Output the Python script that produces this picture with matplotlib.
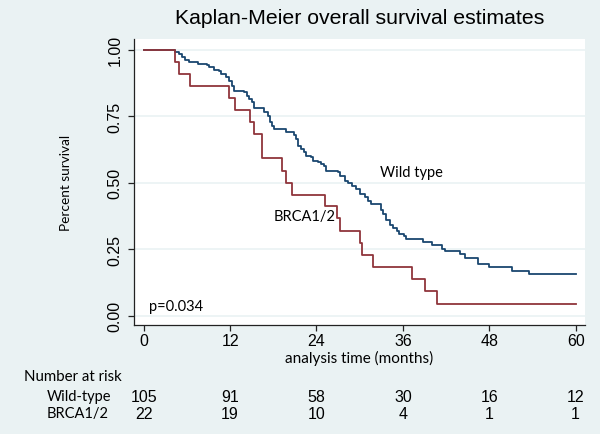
import numpy as np
import matplotlib.pyplot as plt
from matplotlib import transforms

# KM curves: time of each drop (months) and survival after it
wt_time = [0, 4.3, 4.9, 5.35, 5.8, 6.3, 7.6, 8.8, 9.1, 9.8, 10.5, 10.7, 11.4, 11.9,
           12.2, 12.5, 13.9, 14.4, 14.6, 15.0, 15.3, 16.7, 17.2, 17.5, 17.8, 18.1,
           19.7, 20.9, 21.2, 21.5, 21.8, 22.2, 22.5, 23.2, 23.5, 24.2, 24.6, 25.1,
           25.3, 27.0, 27.2, 27.9, 28.4, 29.0, 29.5, 30.0, 30.7, 31.2, 31.6, 33.0,
           33.3, 33.7, 34.2, 34.6, 35.2, 35.4, 36.1, 36.5, 38.8, 40.1, 41.4, 41.9,
           43.9, 44.6, 46.5, 47.9, 51.1, 53.5, 60]
wt_surv = [1.0, 0.992, 0.984, 0.971, 0.962, 0.952, 0.946, 0.942, 0.934, 0.925, 0.921,
           0.909, 0.896, 0.883, 0.865, 0.846, 0.840, 0.827, 0.815, 0.805, 0.780, 0.765,
           0.750, 0.729, 0.714, 0.702, 0.689, 0.679, 0.664, 0.639, 0.627, 0.614, 0.602,
           0.595, 0.583, 0.577, 0.570, 0.564, 0.545, 0.539, 0.526, 0.508, 0.500, 0.489,
           0.476, 0.458, 0.445, 0.432, 0.420, 0.398, 0.382, 0.360, 0.340, 0.328, 0.318,
           0.307, 0.301, 0.287, 0.277, 0.265, 0.252, 0.242, 0.232, 0.218, 0.194, 0.182,
           0.169, 0.157, 0.157]

brca_time = [0, 4.3, 4.9, 6.4, 11.9, 12.7, 14.8, 15.3, 16.5, 19.2, 19.8, 20.6, 25.2,
             26.9, 27.3, 30.1, 30.3, 31.8, 37.2, 39.1, 40.7, 60]
brca_surv = [1.0, 0.955, 0.909, 0.864, 0.818, 0.773, 0.727, 0.682, 0.591, 0.545, 0.500,
             0.455, 0.414, 0.367, 0.318, 0.273, 0.227, 0.182, 0.136, 0.091, 0.045, 0.045]

# number at risk table
risk_times = [0, 12, 24, 36, 48, 60]
risk_wt = [105, 91, 58, 30, 16, 12]
risk_brca = [22, 19, 10, 4, 1, 1]

bg = '#eaf2f3'
navy = '#1a476f'
maroon = '#90353b'
ann_font = 'Lato'
num_font = 'Liberation Sans'

fig = plt.figure(figsize=(6, 4.35), dpi=100, facecolor=bg)
ax = fig.add_axes([0.2233, 0.2506, 0.7517, 0.6574])
ax.set_facecolor('white')

ax.step(wt_time, wt_surv, where='post', color=navy, lw=1.3)
ax.step(brca_time, brca_surv, where='post', color=maroon, lw=1.3)

ax.set_xlim(-1.35, 61.3)
ax.set_ylim(-0.035, 1.04)
ax.set_xticks(risk_times)
ax.set_yticks([0, 0.25, 0.5, 0.75, 1.0])
ax.set_yticklabels(['0.00', '0.25', '0.50', '0.75', '1.00'], rotation=90, va='center')
ax.grid(axis='y', color=bg, lw=1.2)
ax.set_axisbelow(True)

for s in ['top', 'right']:
    ax.spines[s].set_visible(False)
for s in ['left', 'bottom']:
    ax.spines[s].set_color('#222222')
    ax.spines[s].set_linewidth(0.9)
ax.tick_params(axis='both', length=4, width=0.9, color='#222222', labelsize=11.5)
ax.tick_params(axis='x', pad=2)
ax.tick_params(axis='y', pad=4)
for lbl in ax.get_xticklabels() + ax.get_yticklabels():
    lbl.set_fontfamily(num_font)

ax.set_xlabel('analysis time (months)', family=ann_font, fontsize=11, labelpad=1)
ax.set_ylabel('Percent survival', family=ann_font, fontsize=9.8, labelpad=26)
fig.text(0.6, 0.958, 'Kaplan-Meier overall survival estimates', ha='center', va='center',
         family=num_font, fontsize=15.3)

ax.text(32.8, 0.54, 'Wild type', family=ann_font, fontsize=10.5, va='center')
ax.text(18.0, 0.375, 'BRCA1/2', family=ann_font, fontsize=10.5, va='center')
ax.text(0.7, 0.035, 'p=0.034', family=ann_font, fontsize=10.5, va='center')

# risk table under the axis
tr = transforms.blended_transform_factory(ax.transData, fig.transFigure)
fig.text(0.04, 0.133, 'Number at risk', family=ann_font, fontsize=10.8, va='center')
fig.text(0.078, 0.087, 'Wild-type', family=ann_font, fontsize=10.5, va='center')
fig.text(0.078, 0.048, 'BRCA1/2', family=ann_font, fontsize=10.5, va='center')
for t, n1, n2 in zip(risk_times, risk_wt, risk_brca):
    ax.text(t, 0.087, str(n1), transform=tr, ha='center', va='center',
            family=num_font, fontsize=11.5, clip_on=False)
    ax.text(t, 0.048, str(n2), transform=tr, ha='center', va='center',
            family=num_font, fontsize=11.5, clip_on=False)

fig.savefig('out.png', dpi=100, facecolor=bg)
